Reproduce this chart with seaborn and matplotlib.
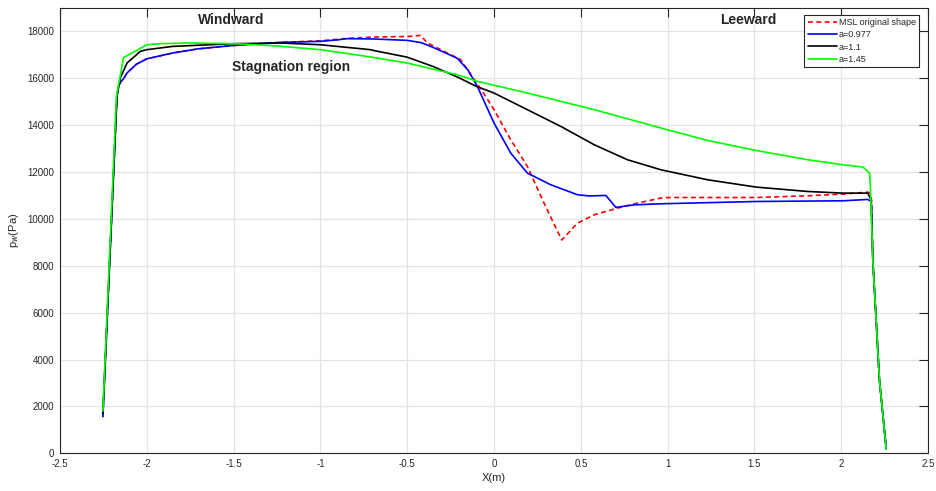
import matplotlib
matplotlib.use("Agg")
import matplotlib.pyplot as plt
import seaborn as sns
import numpy as np
from matplotlib.ticker import FormatStrFormatter

# ---- data ----
x_msl = [-2.253, -2.172, -2.163, -2.15, -2.134, -2.114, -2.06, -2.0, -1.85, -1.7, -1.5, -1.23, -1.0,
         -0.846, -0.69, -0.5, -0.423, -0.384, -0.307, -0.192, -0.073, 0.0, 0.096, 0.192,
         0.288, 0.39, 0.481, 0.577, 0.711, 0.827, 0.961, 1.006, 1.51, 1.807, 2.01, 2.153,
         2.165, 2.175, 2.182, 2.22, 2.259]
y_msl = [1560, 15230, 15650, 15850, 15980, 16225, 16600, 16830, 17080, 17260, 17400, 17530, 17600,
         17700, 17763, 17780, 17830, 17506, 17220, 16790, 15510, 14660, 13380, 12240,
         10675, 9100, 9820, 10175, 10460, 10675, 10890, 10914, 10914, 10986, 11060, 11144,
         11100, 10800, 8250, 3130, 200]

x_a0977 = [-2.253, -2.172, -2.163, -2.15, -2.134, -2.114, -2.06, -2.0, -1.85, -1.7, -1.5, -1.23, -1.0,
           -0.9, -0.846, -0.69, -0.5, -0.42, -0.365, -0.3, -0.211, -0.15, -0.096, 0.0, 0.096,
           0.192, 0.327, 0.481, 0.55, 0.644, 0.702, 0.807, 0.961, 1.51, 2.01, 2.153, 2.173,
           2.182, 2.22, 2.259]
y_a0977 = [1560, 15230, 15650, 15850, 15980, 16225, 16600, 16830, 17080, 17260, 17400, 17530, 17575,
           17640, 17690, 17676, 17617, 17520, 17360, 17150, 16850, 16350, 15650, 14090, 12810,
           11955, 11456, 11030, 10980, 11000, 10490, 10600, 10645, 10743, 10773, 10830, 10743,
           8250, 3130, 200]

x_a11 = [-2.253, -2.172, -2.153, -2.114, -2.037, -2.0, -1.85, -1.5, -1.23, -1.0, -0.712,
         -0.69, -0.5, -0.35, -0.21, -0.1, 0.0, 0.192, 0.385, 0.577, 0.769, 0.961, 1.23, 1.51,
         1.807, 2.01, 2.153, 2.172, 2.182, 2.22, 2.259]
y_a11 = [1700, 15230, 16010, 16650, 17150, 17220, 17360, 17476, 17506, 17430, 17220,
         17180, 16900, 16500, 16050, 15650, 15370, 14660, 13945, 13164, 12523, 12096, 11670,
         11357, 11170, 11100, 11100, 10815, 8250, 3130, 200]

x_a145 = [-2.253, -2.175, -2.134, -2.0, -1.922, -1.75, -1.5, -1.27, -1.0, -0.712, -0.5,
          -0.211, -0.096, 0.192, 0.577, 0.846, 0.961, 1.23, 1.51, 1.807, 2.01, 2.125,
          2.163, 2.168, 2.182, 2.22, 2.259]
y_a145 = [1800, 15230, 16880, 17430, 17476, 17506, 17476, 17390, 17220, 16910, 16650,
          16150, 15870, 15370, 14660, 14116, 13877, 13348, 12920, 12523, 12310, 12210,
          11955, 11385, 8250, 3130, 170]

labels = ["MSL original shape", "a=0.977", "a=1.1", "a=1.45"]
colors = ["#ff0000", "#0000ff", "#000000", "#00ff00"]

xticks = [-2.5, -2, -1.5, -1, -0.5, 0, 0.5, 1, 1.5, 2, 2.5]
yticks = list(range(0, 18001, 2000))

# ---- plotting ----
sns.set_style("white")
plt.rcParams['font.family'] = ['Liberation Sans', 'DejaVu Sans']

fig = plt.figure(figsize=(9.36, 4.91), dpi=100)
ax = fig.add_axes([0.0641, 0.0768, 0.9274, 0.907])

series = [(x_msl, y_msl), (x_a0977, y_a0977), (x_a11, y_a11), (x_a145, y_a145)]
for (xs, ys), lab, c in zip(series, labels, colors):
    line = sns.lineplot(x=xs, y=ys, ax=ax, color=c, linewidth=1.2,
                        label=lab, sort=False, estimator=None).lines[-1]
    if lab.startswith("MSL"):
        line.set_dashes((3, 2))

ax.set_xlim(-2.5, 2.5)
ax.set_ylim(0, 19000)
ax.set_xticks(xticks)
ax.set_yticks(yticks)
ax.xaxis.set_major_formatter(FormatStrFormatter('%g'))
ax.yaxis.set_major_formatter(FormatStrFormatter('%d'))
ax.grid(True, color="#e3e3e3", linewidth=0.9)
ax.set_axisbelow(True)
for s in ax.spines.values():
    s.set_color("#262626")
    s.set_linewidth(0.8)
ax.tick_params(direction="in", length=6.5, width=0.8, color="#262626",
               labelsize=7, labelcolor="#262626", top=True, right=True, pad=4)

ax.set_xlabel("X(m)", fontsize=8, color="#262626")
ax.set_ylabel("p$_w$(Pa)", fontsize=8, color="#262626")
ax.xaxis.set_label_coords(0.5, -0.045)
ax.yaxis.set_label_coords(-0.045, 0.5)

ax.text(-1.516, 18470, "Windward", fontsize=10, fontweight="bold", ha="center", va="center")
ax.text(1.463, 18470, "Leeward", fontsize=10, fontweight="bold", ha="center", va="center")
ax.text(-1.17, 16465, "Stagnation region", fontsize=10, fontweight="bold", ha="center", va="center")

leg = ax.legend(loc="upper right", bbox_to_anchor=(0.9899, 0.984), fontsize=6.5,
                frameon=True, fancybox=False, edgecolor="#262626", framealpha=1,
                handlelength=3.3, handletextpad=0.2, borderpad=0.35, labelspacing=0.35,
                borderaxespad=0)
leg.get_frame().set_linewidth(0.8)
for h in leg.get_lines():
    if h.get_label().startswith("MSL") or h.get_color() == "#ff0000":
        pass
leg.get_lines()[0].set_dashes((3, 2))

fig.savefig("out.png", dpi=100)
